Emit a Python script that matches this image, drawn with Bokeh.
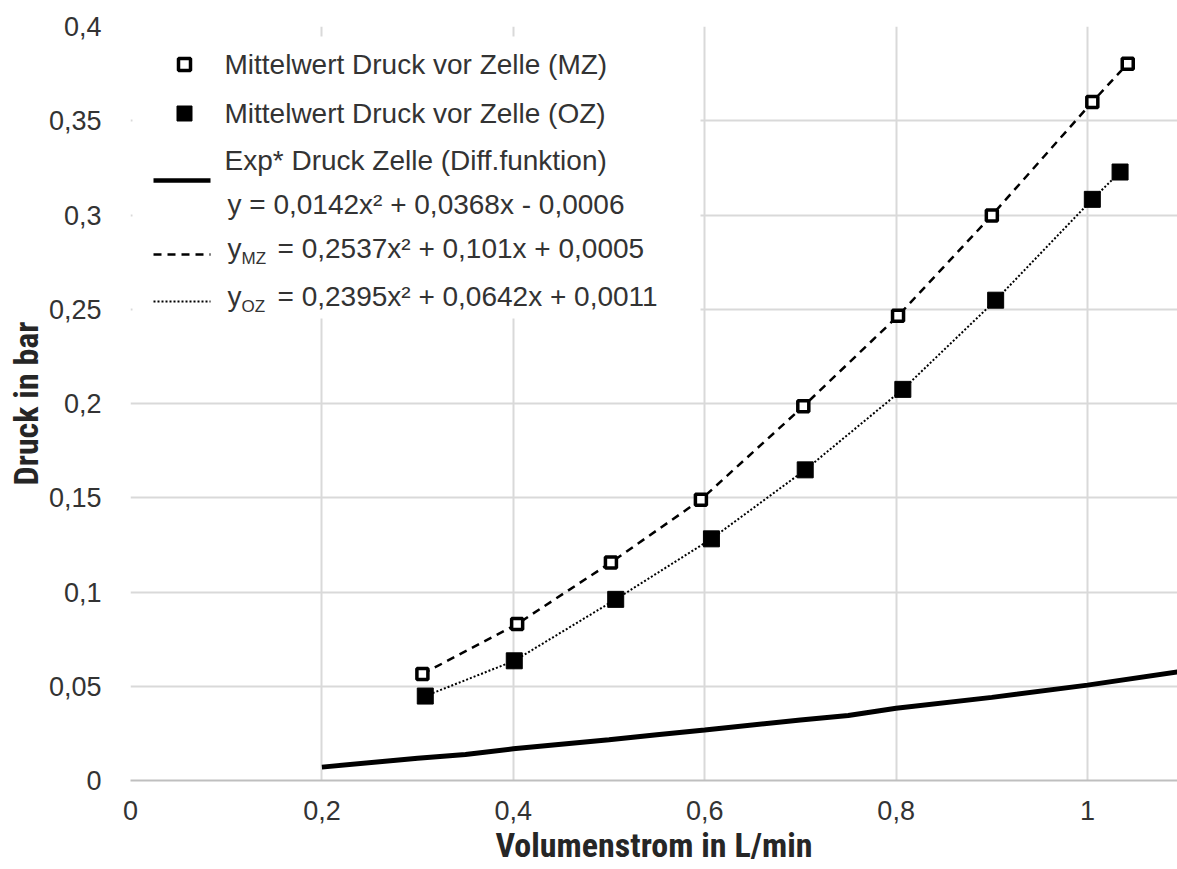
from bokeh.plotting import figure
from bokeh.models import (Range1d, FixedTicker, BoxAnnotation, Label, Arrow)
from bokeh.embed import file_html
from bokeh.resources import INLINE

# ---------------- data ----------------
flow_mz = [0.305, 0.404, 0.502, 0.596, 0.703, 0.802, 0.900, 1.005, 1.042]
p_mz = [0.0565, 0.0830, 0.1157, 0.1490, 0.1985, 0.2465, 0.2998, 0.3600, 0.3803]

flow_oz = [0.308, 0.401, 0.507, 0.607, 0.705, 0.807, 0.904, 1.005, 1.034]
p_oz = [0.0448, 0.0635, 0.0961, 0.1282, 0.1648, 0.2075, 0.2548, 0.3083, 0.3228]

flow_exp = [0.2, 0.3, 0.35, 0.4, 0.5, 0.55, 0.6, 0.7, 0.75, 0.8, 0.9, 1.0, 1.1]
p_exp = [0.0071, 0.0118, 0.0138, 0.0168, 0.0216, 0.0243, 0.0268, 0.0321, 0.0345,
         0.0383, 0.0441, 0.0506, 0.0581]

x_ticks = [0, 0.2, 0.4, 0.6, 0.8, 1.0]
x_tick_labels = ["0", "0,2", "0,4", "0,6", "0,8", "1"]
y_ticks = [0, 0.05, 0.1, 0.15, 0.2, 0.25, 0.3, 0.35, 0.4]
y_tick_labels = ["0", "0,05", "0,1", "0,15", "0,2", "0,25", "0,3", "0,35", "0,4"]

legend_texts = [
    "Mittelwert Druck vor Zelle (MZ)",
    "Mittelwert Druck vor Zelle (OZ)",
    "Exp* Druck Zelle (Diff.funktion)",
    "y = 0,0142x\u00b2 + 0,0368x - 0,0006",
    "= 0,2537x\u00b2 + 0,101x + 0,0005",
    "= 0,2395x\u00b2 + 0,0642x + 0,0011",
]
x_title = "Volumenstrom in L/min"
y_title = "Druck in bar"

# ---------------- layout ----------------
W, H = 1177, 869
FL, FT, FB = 130, 26, 89
FW, FH = W - FL, H - FT - FB
XMAX, YMAX = 1.094, 0.4


def dx(px):
    return (px - FL) / FW * XMAX


def dy(py):
    return (FT + FH - py) / FH * YMAX


p = figure(width=W, height=H, output_backend="svg", toolbar_location=None,
           x_range=Range1d(0, XMAX), y_range=Range1d(0, YMAX),
           min_border_left=FL, min_border_right=0, min_border_top=FT,
           min_border_bottom=FB)
p.outline_line_color = None
p.background_fill_color = "white"
p.border_fill_color = "white"

TICK_FONT = "Liberation Sans"
TITLE_FONT = "Roboto Condensed, Liberation Sans Narrow, Liberation Sans"

for ax in (p.xaxis[0], p.yaxis[0]):
    ax.major_tick_line_color = None
    ax.minor_tick_line_color = None
    ax.major_label_text_font = TICK_FONT
    ax.major_label_text_font_size = "27px"
    ax.major_label_text_color = "#333333"
    ax.axis_label_text_font = TITLE_FONT
    ax.axis_label_text_font_size = "34px"
    ax.axis_label_text_font_style = "bold"
    ax.axis_label_text_color = "#262626"

p.xaxis.ticker = FixedTicker(ticks=x_ticks)
p.yaxis.ticker = FixedTicker(ticks=y_ticks)
p.xaxis.major_label_overrides = dict(zip(x_ticks, x_tick_labels))
p.yaxis.major_label_overrides = dict(zip(y_ticks, y_tick_labels))
p.xaxis.axis_label = x_title
p.yaxis.axis_label = y_title
p.xaxis.axis_line_color = "#bfbfbf"
p.xaxis.axis_line_width = 2
p.yaxis.axis_line_color = None
p.xaxis.major_label_standoff = 14
p.yaxis.major_label_standoff = 23
p.xaxis.axis_label_standoff = 2
p.yaxis.axis_label_standoff = 0

p.grid.grid_line_color = "#d9d9d9"
p.grid.grid_line_width = 2

# ---------------- data glyphs ----------------
p.line(flow_exp, p_exp, line_color="black", line_width=5)
p.line(flow_mz, p_mz, line_color="black", line_width=2.5, line_dash="8 6")
p.line(flow_oz, p_oz, line_color="black", line_width=2, line_dash="2 2")
p.scatter(flow_oz, p_oz, marker="square", size=16, fill_color="black", line_color="black")
p.scatter(flow_mz, p_mz, marker="square", size=11, fill_color="white",
          line_color="black", line_width=3.5)

# ---------------- legend (manual) ----------------
p.add_layout(BoxAnnotation(left=dx(132), right=dx(700), top=dy(36), bottom=dy(318),
                           fill_color="white", fill_alpha=1, line_color=None))

LFONT = "28px"
TEXT_X = 224
EQ_X = 227

# open square sample
p.add_layout(BoxAnnotation(left=dx(178), right=dx(190), top=dy(58), bottom=dy(70),
                           fill_color="white", fill_alpha=1, line_color="black",
                           line_alpha=1, line_width=3.5))
# filled square sample
p.add_layout(BoxAnnotation(left=dx(176.5), right=dx(191.5), top=dy(105.5), bottom=dy(120.5),
                           fill_color="black", fill_alpha=1, line_color="black",
                           line_alpha=1, line_width=1))
# line samples
p.add_layout(Arrow(end=None, x_start=dx(153), y_start=dy(180), x_end=dx(210), y_end=dy(180),
                   line_color="black", line_width=4.5))
p.add_layout(Arrow(end=None, x_start=dx(153), y_start=dy(254), x_end=dx(210), y_end=dy(254),
                   line_color="black", line_width=2.5, line_dash="8 6"))
p.add_layout(Arrow(end=None, x_start=dx(153), y_start=dy(301), x_end=dx(210), y_end=dy(301),
                   line_color="black", line_width=2, line_dash="2 2"))


def add_text(txt, px, py, size=LFONT):
    p.add_layout(Label(x=dx(px), y=dy(py), text=txt, text_font=TICK_FONT,
                       text_font_size=size, text_color="#333333",
                       text_align="left", text_baseline="middle"))


add_text(legend_texts[0], TEXT_X, 64)
add_text(legend_texts[1], TEXT_X, 113)
add_text(legend_texts[2], TEXT_X, 160)
add_text(legend_texts[3], EQ_X, 204)
# y_MZ
add_text("y", EQ_X, 248)
add_text("MZ", EQ_X + 14, 258, "17px")
add_text(legend_texts[4], 277, 248)
# y_OZ
add_text("y", EQ_X, 296)
add_text("OZ", EQ_X + 14, 306, "17px")
add_text(legend_texts[5], 277, 296)

open("out.html", "w").write(file_html(p, INLINE))
